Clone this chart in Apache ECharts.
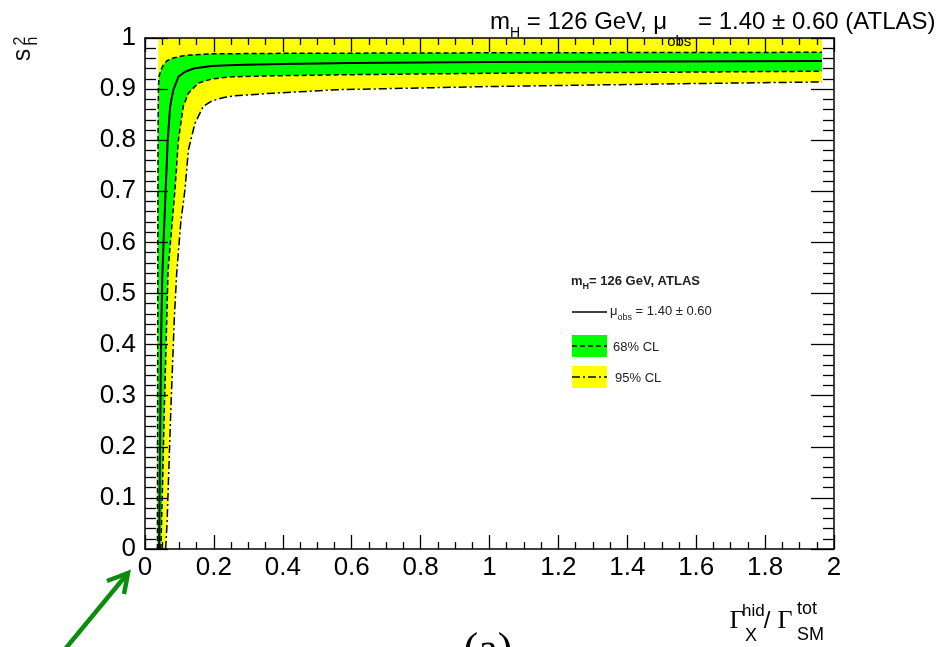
<!DOCTYPE html>
<html>
<head>
<meta charset="utf-8">
<title>s_h^2 vs hidden width</title>
<script src="https://cdn.jsdelivr.net/npm/echarts@6/dist/echarts.min.js"></script>
<style>
  html, body { margin: 0; padding: 0; background: #fff; }
  #chart { width: 943px; height: 647px; }
</style>
</head>
<body>
<div id="chart"></div>
<script>
// Curves as [Γ_X^hid / Γ_SM^tot, s_h^2] pairs
const central = [[0.041,0],[0.043,0.15],[0.045,0.30],[0.047,0.42],[0.050,0.53],[0.055,0.62],[0.060,0.703],[0.066,0.80],[0.073,0.866],[0.082,0.898],[0.097,0.924],[0.116,0.934],[0.145,0.941],[0.194,0.945],[0.261,0.947],[0.40,0.949],[0.60,0.951],[1.00,0.953],[1.50,0.954],[1.965,0.955]];
const upper68 = [[0.036,0],[0.037,0.5],[0.038,0.82],[0.039,0.905],[0.041,0.925],[0.046,0.937],[0.053,0.947],[0.063,0.955],[0.077,0.960],[0.116,0.966],[0.194,0.969],[0.40,0.970],[1.00,0.971],[1.965,0.972]];
const lower68 = [[0.046,0],[0.050,0.10],[0.056,0.272],[0.062,0.42],[0.067,0.546],[0.087,0.703],[0.097,0.80],[0.111,0.866],[0.126,0.892],[0.155,0.912],[0.194,0.920],[0.252,0.924],[0.372,0.926],[0.566,0.928],[1.00,0.931],[1.50,0.933],[1.965,0.935]];
const upper95 = [[0.035,0],[0.036,0.5],[0.037,0.9],[0.039,1.0],[1.965,1.0]];
const lower95 = [[0.060,0],[0.064,0.05],[0.075,0.272],[0.085,0.45],[0.092,0.54],[0.104,0.64],[0.116,0.703],[0.126,0.781],[0.145,0.833],[0.169,0.866],[0.194,0.877],[0.232,0.884],[0.261,0.887],[0.372,0.892],[0.566,0.899],[1.00,0.905],[1.50,0.910],[1.965,0.914]];

const xRange = [0, 2];
const yRange = [0, 1];

const SANS = 'Liberation Sans, Arial, Helvetica, sans-serif';
const SERIF = 'Liberation Serif, Times New Roman, serif';

const chart = echarts.init(document.getElementById('chart'), null, { renderer: 'canvas' });

// Filled confidence band between an upper and a lower curve
function band(upper, lower, color) {
  const poly = upper.concat(lower.slice().reverse());
  return {
    type: 'custom',
    coordinateSystem: 'cartesian2d',
    xAxisIndex: 0, yAxisIndex: 0,
    silent: true,
    clip: true,
    z: 1,
    data: [[0, 0]],
    renderItem: function (params, api) {
      return {
        type: 'polygon',
        shape: { points: poly.map(function (p) { return api.coord(p); }) },
        style: { fill: color, stroke: null }
      };
    }
  };
}

function curve(data, dash, width) {
  return {
    type: 'line',
    xAxisIndex: 0, yAxisIndex: 0,
    data: data,
    showSymbol: false,
    silent: true,
    clip: true,
    z: 3,
    lineStyle: { color: '#000', width: width, type: dash }
  };
}

function axisCommon(len, minorLen, minorSplit) {
  return {
    axisLine: { show: true, onZero: false, lineStyle: { color: '#000', width: 1.5 } },
    axisTick: { show: true, inside: true, length: len, lineStyle: { color: '#000', width: 1.3 } },
    minorTick: { show: true, splitNumber: minorSplit, length: minorLen, lineStyle: { color: '#000', width: 1.3 } },
    splitLine: { show: false },
    minorSplitLine: { show: false },
    z: 10
  };
}

const labelStyle = { color: '#000', fontSize: 26, fontFamily: SANS };

const xBottom = Object.assign({
  type: 'value', position: 'bottom', min: xRange[0], max: xRange[1], interval: 0.2,
  axisLabel: Object.assign({ margin: 6 }, labelStyle)
}, axisCommon(14, 7, 4));
const xTop = Object.assign({
  type: 'value', position: 'top', min: xRange[0], max: xRange[1], interval: 0.2,
  axisLabel: { show: false }
}, axisCommon(14, 7, 4));
const yLeft = Object.assign({
  type: 'value', position: 'left', min: yRange[0], max: yRange[1], interval: 0.1,
  axisLabel: Object.assign({ margin: 9 }, labelStyle)
}, axisCommon(23, 11, 5));
const yRight = Object.assign({
  type: 'value', position: 'right', min: yRange[0], max: yRange[1], interval: 0.1,
  axisLabel: { show: false }
}, axisCommon(23, 11, 5));

// Rich text helper: subscripts / superscripts shifted with top padding
function richText(x, y, text, rich, extra) {
  return Object.assign({
    type: 'text', x: x, y: y, silent: true, z: 20,
    style: { text: text, rich: rich, align: 'left', verticalAlign: 'top', fill: '#000' }
  }, extra || {});
}

const titleRich = {
  n: { fontSize: 24, lineHeight: 24, fontFamily: SANS, verticalAlign: 'top', fill: '#000' },
  h: { fontSize: 14, lineHeight: 14, fontFamily: SANS, verticalAlign: 'top', padding: [16, 0, 0, 0], fill: '#000' },
  o: { fontSize: 15, lineHeight: 15, fontFamily: SANS, verticalAlign: 'top', padding: [24, 0, 0, 0], fill: '#000' }
};

const legRich = {
  b: { fontSize: 13, lineHeight: 13, fontWeight: 'bold', fontFamily: SANS, verticalAlign: 'top', fill: '#222' },
  bs: { fontSize: 9, lineHeight: 9, fontWeight: 'bold', fontFamily: SANS, verticalAlign: 'top', padding: [7, 0, 0, 0], fill: '#222' },
  n: { fontSize: 13, lineHeight: 13, fontFamily: SANS, verticalAlign: 'top', fill: '#222' },
  s: { fontSize: 9, lineHeight: 9, fontFamily: SANS, verticalAlign: 'top', padding: [8, 0, 0, 0], fill: '#222' }
};

const graphics = [
  // header text
  richText(490, 10, '{n|m}{h|H}{n| = 126 GeV, μ}{o|obs}{n| = 1.40 ± 0.60 (ATLAS)}', titleRich),

  // y-axis title s_h^2 (rotated)
  { type: 'text', x: 23, y: 55, rotation: Math.PI / 2, silent: true, z: 20,
    style: { text: 's', fontSize: 25, fontFamily: SANS, fill: '#111', align: 'center', verticalAlign: 'middle' } },
  { type: 'text', x: 21, y: 41, rotation: Math.PI / 2, silent: true, z: 20,
    style: { text: '2', fontSize: 16, fontFamily: SANS, fill: '#111', align: 'center', verticalAlign: 'middle' } },
  { type: 'text', x: 33, y: 41, rotation: Math.PI / 2, silent: true, z: 20,
    style: { text: 'h', fontSize: 16, fontFamily: SANS, fill: '#111', align: 'center', verticalAlign: 'middle' } },

  // x-axis title Γ_X^hid / Γ_SM^tot
  { type: 'text', x: 737, y: 621, silent: true, z: 20,
    style: { text: 'Γ', fontSize: 26, fontFamily: SERIF, fill: '#000', align: 'center', verticalAlign: 'middle' } },
  { type: 'text', x: 742, y: 611, silent: true, z: 20,
    style: { text: 'hid', fontSize: 17, fontFamily: SANS, fill: '#000', align: 'left', verticalAlign: 'middle' } },
  { type: 'text', x: 745, y: 636, silent: true, z: 20,
    style: { text: 'X', fontSize: 18, fontFamily: SANS, fill: '#000', align: 'left', verticalAlign: 'middle' } },
  { type: 'text', x: 767, y: 621, silent: true, z: 20,
    style: { text: '/', fontSize: 24, fontFamily: SANS, fill: '#000', align: 'center', verticalAlign: 'middle' } },
  { type: 'text', x: 785, y: 621, silent: true, z: 20,
    style: { text: 'Γ', fontSize: 26, fontFamily: SERIF, fill: '#000', align: 'center', verticalAlign: 'middle' } },
  { type: 'text', x: 797, y: 609, silent: true, z: 20,
    style: { text: 'tot', fontSize: 18, fontFamily: SANS, fill: '#000', align: 'left', verticalAlign: 'middle' } },
  { type: 'text', x: 797, y: 635, silent: true, z: 20,
    style: { text: 'SM', fontSize: 18, fontFamily: SANS, fill: '#000', align: 'left', verticalAlign: 'middle' } },

  // panel tag
  { type: 'text', x: 488, y: 651, silent: true, z: 20,
    style: { text: '(a)', fontSize: 44, fontFamily: SERIF, fill: '#000', align: 'center', verticalAlign: 'middle' } },

  // legend
  richText(571, 275, '{b|m}{bs|H}{b|= 126 GeV, ATLAS}', legRich),
  { type: 'line', silent: true, z: 20, shape: { x1: 572, y1: 312, x2: 607, y2: 312 },
    style: { stroke: '#000', lineWidth: 1.5 } },
  richText(610, 305, '{n|μ}{s|obs}{n| = 1.40 ± 0.60}', legRich),
  { type: 'rect', silent: true, z: 19, shape: { x: 572, y: 335, width: 35, height: 22 },
    style: { fill: '#00ff00' } },
  { type: 'line', silent: true, z: 20, shape: { x1: 572, y1: 346, x2: 607, y2: 346 },
    style: { stroke: '#000', lineWidth: 1.5, lineDash: [5, 3] } },
  { type: 'text', x: 613, y: 347, silent: true, z: 20,
    style: { text: '68% CL', fontSize: 13, fontFamily: SANS, fill: '#222', align: 'left', verticalAlign: 'middle' } },
  { type: 'rect', silent: true, z: 19, shape: { x: 572, y: 366, width: 35, height: 22 },
    style: { fill: '#ffff00' } },
  { type: 'line', silent: true, z: 20, shape: { x1: 572, y1: 377, x2: 607, y2: 377 },
    style: { stroke: '#000', lineWidth: 1.5, lineDash: [8, 3, 2, 3] } },
  { type: 'text', x: 615, y: 378, silent: true, z: 20,
    style: { text: '95% CL', fontSize: 13, fontFamily: SANS, fill: '#222', align: 'left', verticalAlign: 'middle' } },

  // arrow pointing at the origin
  { type: 'polyline', silent: true, z: 20, shape: { points: [[66, 648], [128, 573]] },
    style: { stroke: '#0c8c0c', lineWidth: 4.5, fill: null } },
  { type: 'polyline', silent: true, z: 20, shape: { points: [[107, 581], [128, 573], [124, 594]] },
    style: { stroke: '#0c8c0c', lineWidth: 4.5, fill: null, lineJoin: 'miter' } }
];

chart.setOption({
  animation: false,
  backgroundColor: '#fff',
  grid: { left: 145, right: 109, top: 38, bottom: 98, containLabel: false, show: false },
  xAxis: [xBottom, xTop],
  yAxis: [yLeft, yRight],
  series: [
    band(upper95, lower95, '#ffff00'),
    band(upper68, lower68, '#00ff00'),
    curve(lower95, [8, 3, 2, 3], 1.5),
    curve(upper68, [5, 3], 1.5),
    curve(lower68, [5, 3], 1.5),
    curve(central, 'solid', 2)
  ],
  graphic: graphics
});
</script>
</body>
</html>
